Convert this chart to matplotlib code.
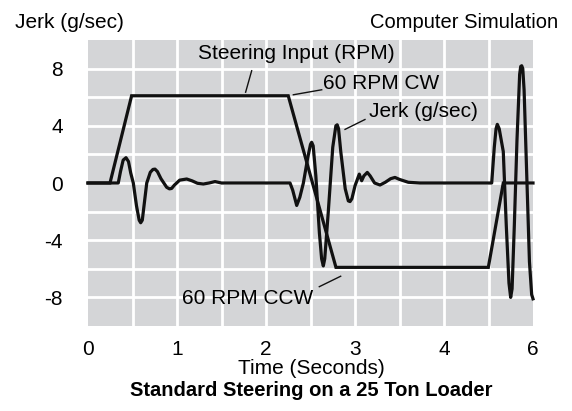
import matplotlib
matplotlib.use("Agg")
import matplotlib.pyplot as plt
from matplotlib import font_manager

names = {f.name for f in font_manager.fontManager.ttflist}
fam = "Liberation Sans Narrow" if "Liberation Sans Narrow" in names else "Liberation Sans"
plt.rcParams['font.family'] = [fam, 'DejaVu Sans']

# Axis scale: one labelled step every two grid columns (last label reads "6" in the source)
xtick_pos = [0, 1, 2, 3, 4, 5]
xtick_labels = ["0", "1", "2", "3", "4", "6"]
ytick_pos = [-8, -4, 0, 4, 8]
ytick_labels = ["-8", "-4", "0", "4", "8"]
xgrid = [0.5 * i for i in range(11)]
ygrid = list(range(-10, 11, 2))

# Steering input (scaled to jerk units)
steer_t = [0.0, 0.247, 0.49, 2.25, 2.786, 4.498, 4.666, 5.0]
steer_v = [0.0, 0.0, 6.1, 6.1, -5.9, -5.9, 0.0, 0.0]

# Jerk (g/sec)
jerk_t = [0.0, 0.30, 0.34, 0.365, 0.395, 0.427, 0.455, 0.48, 0.509, 0.545, 0.575, 0.592, 0.61,
          0.635, 0.66, 0.70, 0.73, 0.753, 0.78, 0.82, 0.884, 0.915, 0.94, 0.97, 1.03, 1.109,
          1.17, 1.23, 1.296, 1.36, 1.427, 1.5, 2.27, 2.30, 2.345, 2.38, 2.42, 2.47, 2.50,
          2.513, 2.53, 2.56, 2.60, 2.625, 2.644, 2.66, 2.70, 2.75, 2.785, 2.80, 2.815, 2.84,
          2.89, 2.925, 2.944, 2.965, 3.0, 3.048, 3.075, 3.10, 3.138, 3.17, 3.22, 3.281, 3.34,
          3.40, 3.449, 3.50, 3.599, 3.73, 4.536, 4.565, 4.585, 4.599, 4.62, 4.666, 4.70, 4.73,
          4.749, 4.765, 4.79, 4.82, 4.85, 4.862, 4.873, 4.885, 4.90, 4.93, 4.96, 4.985, 5.0]
jerk_v = [0.0, 0.0, 0.0, 0.8, 1.6, 1.77, 1.5, 0.7, 0.0, -1.6, -2.6, -2.78, -2.6,
          -1.3, 0.0, 0.75, 0.95, 0.97, 0.8, 0.3, -0.3, -0.41, -0.38, -0.15, 0.2, 0.28,
          0.15, -0.02, -0.07, 0.0, 0.1, 0.0, 0.0, -0.5, -1.57, -1.0, 0.0, 1.8, 2.7,
          2.85, 2.6, 0.5, -3.5, -5.3, -5.8, -5.3, -2.0, 2.5, 4.0, 4.07, 3.8, 2.2,
          -0.4, -1.25, -1.3, -1.1, -0.2, 0.62, 0.16, 0.5, 0.74, 0.5, 0.0, -0.14, 0.05,
          0.3, 0.39, 0.25, 0.05, 0.0, 0.0, 2.5, 3.8, 4.1, 3.8, 2.2, -3.0, -7.0,
          -8.0, -7.4, -3.0, 3.0, 7.6, 8.15, 8.2, 8.0, 6.5, 0.5, -5.5, -7.8, -8.1]

W, H = 572, 411
fig = plt.figure(figsize=(W / 100, H / 100), dpi=100)
ax = fig.add_axes([88 / W, 1 - 326 / H, (533 - 88) / W, (326 - 40) / H])
ax.set_facecolor('#d4d5d7')
for s in ax.spines.values():
    s.set_visible(False)

ax.set_xlim(0, 5)
ax.set_ylim(-10, 10)
for gx in xgrid[1:-1]:
    ax.axvline(gx, color='white', lw=2.0, zorder=0.5)
for gy in ygrid[1:-1]:
    ax.axhline(gy, color='white', lw=2.0, zorder=0.5)
ax.set_xticks(xtick_pos)
ax.set_xticklabels(xtick_labels)
ax.set_yticks(ytick_pos)
ax.set_yticklabels(ytick_labels)
ax.tick_params(which='both', length=0, labelsize=15)
ax.tick_params(axis='x', pad=10)
ax.tick_params(axis='y', pad=18)

ax.plot(steer_t, steer_v, color='#111111', lw=2.3, solid_joinstyle='miter', clip_on=False, zorder=3)
ax.plot(jerk_t, jerk_v, color='#111111', lw=2.3, solid_joinstyle='round', clip_on=False, zorder=3)

ax.text(2.343, 9.03, "Steering Input (RPM)", ha='center', va='center', fontsize=15)
ax.plot([1.839, 1.771], [7.85, 6.35], color='#111111', lw=1.0)
ax.text(2.644, 6.93, "60 RPM CW", ha='left', va='center', fontsize=15)
ax.plot([2.626, 2.307], [6.52, 6.17], color='#111111', lw=1.0)
ax.text(3.161, 4.97, "Jerk (g/sec)", ha='left', va='center', fontsize=15)
ax.plot([3.112, 2.888], [4.44, 3.75], color='#111111', lw=1.0)
ax.text(1.053, -8.06, "60 RPM CCW", ha='left', va='center', fontsize=15)
ax.plot([2.599, 2.839], [-7.25, -6.52], color='#111111', lw=1.0)

fig.text(15 / W, 1 - 22.5 / H, "Jerk (g/sec)", ha='left', va='center', fontsize=15)
fig.text(558 / W, 1 - 22 / H, "Computer Simulation", ha='right', va='center', fontsize=14.5)
fig.text(311 / W, 1 - 368 / H, "Time (Seconds)", ha='center', va='center', fontsize=15)
fig.text(311 / W, 1 - 390 / H, "Standard Steering on a 25 Ton Loader", ha='center',
         va='center', fontsize=14.5, fontweight='bold')

fig.savefig("out.png", dpi=100)
